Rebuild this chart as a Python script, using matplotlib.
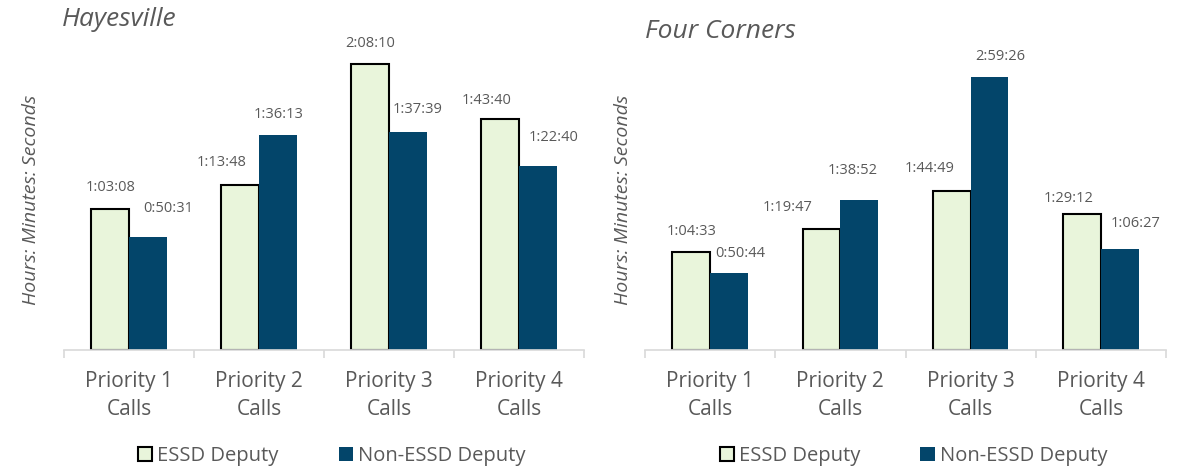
import matplotlib
matplotlib.use("Agg")
from matplotlib import pyplot as plt
from matplotlib.patches import Patch
import numpy as np

categories = ["Priority 1\nCalls", "Priority 2\nCalls", "Priority 3\nCalls", "Priority 4\nCalls"]
series_names = ["ESSD Deputy", "Non-ESSD Deputy"]

hayesville_essd = ["1:03:08", "1:13:48", "2:08:10", "1:43:40"]
hayesville_non = ["0:50:31", "1:36:13", "1:37:39", "1:22:40"]
four_corners_essd = ["1:04:33", "1:19:47", "1:44:49", "1:29:12"]
four_corners_non = ["0:50:44", "1:38:52", "2:59:26", "1:06:27"]

# label nudges in pixels (dx, dy above bar top), as placed in the original
hay_essd_nudge = [(0, 22), (-19, 23), (0, 20), (-14, 18)]
hay_non_nudge = [(20, 29), (1, 21), (10, 23), (16, 28)]
fc_essd_nudge = [(0, 20), (-34, 21), (-22, 22), (-13, 16)]
fc_non_nudge = [(11, 19), (-7, 29), (11, 20), (16, 25)]

TEXT = "#595959"
ESSD_COLOR = "#E9F5DB"
NON_COLOR = "#03456A"
AXIS = "#D9D9D9"

plt.rcParams["font.family"] = ["Open Sans", "DejaVu Sans"]


def to_sec(s):
    h, m, sec = s.split(":")
    return int(h) * 3600 + int(m) * 60 + int(sec)


def draw_panel(ax, essd, non, ymax, essd_nudge, non_nudge):
    x = np.arange(len(categories))
    w = 0.29
    ev = [to_sec(s) for s in essd]
    nv = [to_sec(s) for s in non]
    ax.bar(x - w / 2, ev, w, color=ESSD_COLOR, edgecolor="black", linewidth=1.5, zorder=2)
    ax.bar(x + w / 2, nv, w, color=NON_COLOR, edgecolor="none", zorder=2)
    for xi, v, s, (dx, dy) in zip(x - w / 2, ev, essd, essd_nudge):
        ax.annotate(s, (xi, v), xytext=(dx * 0.72, dy * 0.72), textcoords="offset points",
                    ha="center", va="center", fontsize=10.5, color=TEXT)
    for xi, v, s, (dx, dy) in zip(x + w / 2, nv, non, non_nudge):
        ax.annotate(s, (xi, v), xytext=(dx * 0.72, dy * 0.72), textcoords="offset points",
                    ha="center", va="center", fontsize=10.5, color=TEXT)
    ax.set_xlim(-0.5, len(categories) - 0.5)
    ax.set_ylim(0, ymax)
    for sp in ["left", "right", "top"]:
        ax.spines[sp].set_visible(False)
    ax.spines["bottom"].set_color(AXIS)
    ax.spines["bottom"].set_linewidth(1.2)
    ax.set_yticks([])
    ax.set_xticks(x)
    ax.set_xticklabels(categories, fontsize=15, color=TEXT, linespacing=1.42)
    ax.set_xticks(np.arange(-0.5, len(categories)), minor=True)
    ax.tick_params(axis="x", which="major", length=0, pad=15)
    ax.tick_params(axis="x", which="minor", length=6, width=1.2, color=AXIS)
    handles = [Patch(facecolor=ESSD_COLOR, edgecolor="black", linewidth=1.5),
               Patch(facecolor=NON_COLOR, edgecolor="none")]
    leg = ax.legend(handles, series_names, loc="center", bbox_to_anchor=(0.515, -0.33),
                    ncol=2, frameon=False, fontsize=14.5, handlelength=0.7, handleheight=0.7,
                    handletextpad=0.25, columnspacing=3.0)
    for t in leg.get_texts():
        t.set_color(TEXT)


fig = plt.figure(figsize=(11.78, 4.67), dpi=100)
W, H = 1178, 467
ax1 = fig.add_axes([64 / W, (H - 350) / H, 520 / W, 320 / H])
ax2 = fig.add_axes([645 / W, (H - 350) / H, 521 / W, 320 / H])

draw_panel(ax1, hayesville_essd, hayesville_non, 8604, hay_essd_nudge, hay_non_nudge)
draw_panel(ax2, four_corners_essd, four_corners_non, 12619, fc_essd_nudge, fc_non_nudge)

fig.text(62 / W, 1 - 20 / H, "Hayesville", fontsize=19, style="italic", color=TEXT, ha="left", va="center")
fig.text(645 / W, 1 - 31 / H, "Four Corners", fontsize=19, style="italic", color=TEXT, ha="left", va="center")
fig.text(31 / W, 1 - 200 / H, "Hours: Minutes: Seconds", fontsize=14, style="italic", color=TEXT,
         rotation=90, ha="center", va="center")
fig.text(623 / W, 1 - 200 / H, "Hours: Minutes: Seconds", fontsize=14, style="italic", color=TEXT,
         rotation=90, ha="center", va="center")

fig.savefig("out.png", dpi=100)
